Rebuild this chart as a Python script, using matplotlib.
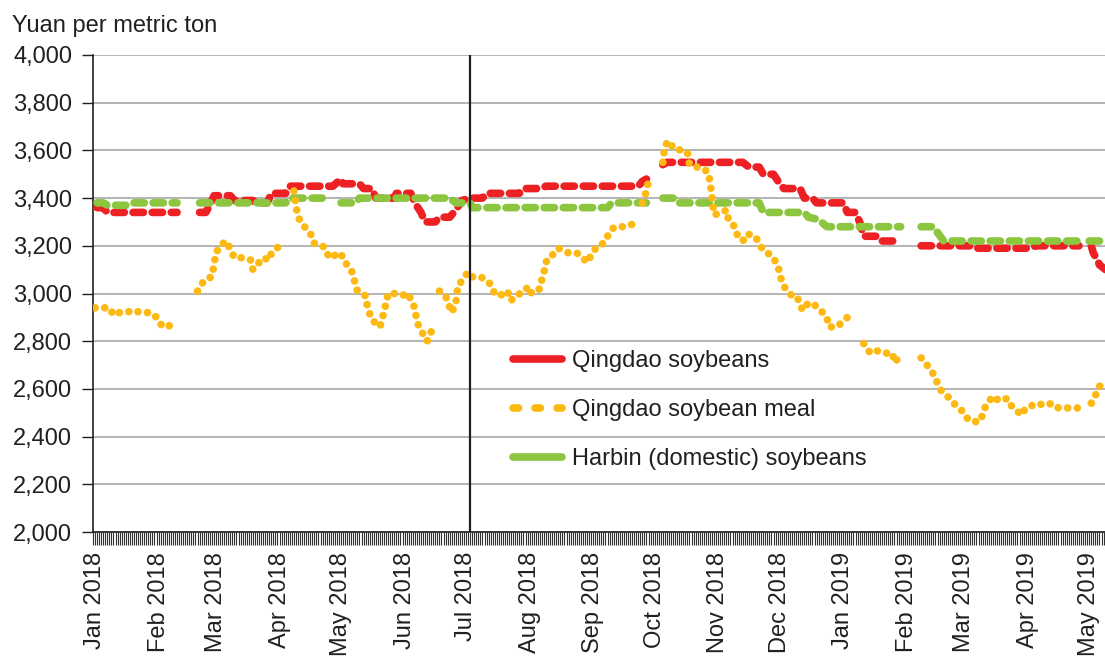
import numpy as np
import pandas as pd
import matplotlib
matplotlib.use("Agg")
import matplotlib.pyplot as plt
import matplotlib.dates as mdates
from matplotlib.lines import Line2D
from matplotlib.ticker import FixedLocator, FuncFormatter

nan = np.nan
BASE = pd.Timestamp("2018-01-01")

# ---- data (day offsets from 2018-01-01, yuan per metric ton; nan = gap) ----
soy_day = [1, 4, 6, 40, 45, 51, 54, 56, 58, 66, 68, 77, 79, 84, 86, 93, 95, 116, 120, 121,
           129, 131, 135, 137, 146, 147, 154, 156, 159, 161, 166, 168, 173, 176, 179, 183, 189, 191, 207, 209,
           217, 220, 265, 267, 269, 272, 277, 279, 316, 319, 324, 326, 331, 334, 336, 344, 346, 350, 352, 365,
           367, 371, 373, 375, 381, 383, 393, 397, 403, 427, 429, 456, 459, 480, 483, 486, 487, 489, 490, 493]
soy_val = [3360, 3360, 3340, 3340, nan, 3340, 3340, 3370, 3410, 3410, 3390, 3390, 3380, 3380, 3420, 3420, 3450, 3450, 3480, 3460,
           3460, 3440, 3440, 3400, 3400, 3420, 3420, 3380, 3340, 3300, 3300, 3320, 3320, 3350, 3390, 3400, 3400, 3420, 3420, 3440,
           3440, 3450, 3450, 3470, 3480, nan, 3540, 3550, 3550, 3530, 3530, 3500, 3500, 3460, 3440, 3440, 3400, 3400, 3380, 3380,
           3340, 3340, 3300, 3240, 3240, 3220, 3220, nan, 3200, 3200, 3190, 3190, 3200, 3200, nan, 3200, 3170, 3140, 3120, 3100]

harbin_day = [1, 4, 6, 16, 18, 40, 45, 51, 93, 95, 112, 114, 116, 120, 127, 129, 173, 176, 183, 184,
              250, 252, 269, 272, 277, 282, 284, 324, 326, 346, 348, 353, 357, 393, 397, 403, 409, 414, 481, 483,
              485, 493]
harbin_val = [3380, 3380, 3370, 3370, 3380, 3380, nan, 3380, 3380, 3400, 3400, 3380, nan, 3380, 3380, 3400, 3400, 3380, 3380, 3360,
              3360, 3380, 3380, nan, 3400, 3400, 3380, 3380, 3340, 3340, 3320, 3310, 3280, 3280, nan, 3280, 3280, 3220, 3220, nan,
              3220, 3220]

meal_day = [0, 5, 7, 9, 12, 15, 19, 22, 27, 30, 33, 35, 40, 45, 50, 52, 54, 57, 59, 61,
            64, 68, 72, 76, 77, 82, 85, 86, 90, 92, 97, 98, 99, 103, 106, 107, 111, 113, 114, 120,
            121, 125, 127, 128, 132, 133, 135, 139, 140, 142, 143, 146, 149, 153, 154, 156, 157, 160, 162, 164,
            166, 168, 171, 174, 176, 177, 182, 184, 188, 192, 195, 198, 199, 202, 203, 205, 210, 211, 213, 217,
            218, 219, 220, 221, 223, 226, 231, 235, 239, 240, 242, 245, 248, 252, 254, 259, 262, 264, 267, 268,
            270, 272, 277, 278, 280, 282, 284, 287, 289, 290, 293, 295, 299, 300, 302, 306, 308, 309, 312, 313,
            316, 318, 322, 326, 330, 333, 335, 336, 340, 342, 344, 345, 348, 350, 355, 357, 358, 362, 367, 371,
            372, 375, 377, 378, 382, 385, 389, 390, 392, 397, 403, 405, 410, 411, 413, 417, 420, 424, 426, 431,
            433, 434, 438, 441, 445, 447, 452, 454, 460, 463, 467, 470, 474, 478, 481, 484, 486, 488, 489, 493]
meal_val = [2940, 2940, 2940, 2910, 2920, 2920, 2930, 2920, 2920, 2900, 2860, 2860, 2880, nan, 3010, 3040, 3060, 3070, 3170, 3200,
            3220, 3150, 3150, 3140, 3100, 3150, 3140, 3170, 3200, nan, 3430, 3370, 3320, 3270, 3240, 3210, 3200, 3180, 3150, 3170,
            3140, 3100, 3040, 3010, 2990, 2940, 2890, 2860, 2890, 2960, 3000, 3000, 2990, 3000, 2970, 2940, 2880, 2830, 2800, 2840,
            nan, 3010, 2990, 2920, 2960, 3030, 3090, 3070, 3070, 3050, 3000, 2990, 3010, 3000, 2970, 2990, 3010, 3030, 3000, 3020,
            3060, 3090, 3130, 3150, 3160, 3190, 3170, 3170, 3140, 3130, 3160, 3200, 3210, 3270, 3280, 3280, 3290, nan, 3380, 3400,
            3470, nan, 3550, 3620, 3640, 3610, 3610, 3590, 3590, 3540, 3530, 3530, 3510, 3470, 3330, 3340, 3350, 3310, 3280, 3250,
            3220, 3250, 3240, 3180, 3160, 3120, 3050, 3030, 2990, 2990, 2960, 2930, 2960, 2960, 2920, 2900, 2860, 2860, 2900, 2890,
            nan, 2790, 2770, 2750, 2760, 2750, 2750, 2710, 2730, nan, 2730, 2710, 2650, 2620, 2590, 2560, 2530, 2500, 2470, 2460,
            2490, 2520, 2570, 2550, 2560, 2530, 2490, 2520, 2540, 2530, 2540, 2520, 2520, 2520, 2520, nan, 2540, 2570, 2600, 2640]

series_labels = ["Qingdao soybeans", "Qingdao soybean meal", "Harbin (domestic) soybeans"]
y_ticks = list(range(2000, 4001, 200))
month_ticks = pd.date_range("2018-01-01", "2019-05-01", freq="MS")
tariff_date = pd.Timestamp("2018-07-03")
y_title = "Yuan per metric ton"


def to_dates(days):
    return BASE + pd.to_timedelta(np.asarray(days, dtype=float), unit="D")


RED = "#ED2024"
YEL = "#FDB913"
GRN = "#8CC63F"
TXT = "#231F20"

plt.rcParams["font.family"] = ["Liberation Sans", "DejaVu Sans"]

W, H = 1105, 660
fig = plt.figure(figsize=(W / 100, H / 100), dpi=100)
ax = fig.add_axes([93 / W, 1 - 532 / H, 1 - 93 / W, (532 - 55) / H])

lw = 5.5
ax.plot(to_dates(soy_day), soy_val, color=RED, lw=lw, dashes=(1.35, 1.15),
        dash_capstyle="round", zorder=3)
ax.plot(to_dates(harbin_day), harbin_val, color=GRN, lw=lw, dashes=(1.35, 1.15),
        dash_capstyle="round", zorder=4)
ax.plot(to_dates(meal_day), meal_val, color=YEL, lw=lw, dashes=(0.01, 1.25),
        dash_capstyle="round", zorder=5)

ax.axvline(tariff_date, color=TXT, lw=1.6, zorder=6)

ax.set_xlim(BASE - pd.Timedelta(days=1), BASE + pd.Timedelta(days=492.7))
ax.set_ylim(2000, 4000)

ax.set_yticks(y_ticks)
ax.yaxis.set_major_formatter(FuncFormatter(lambda v, p: f"{int(v):,}"))
ax.yaxis.grid(True, color="#A0A0A0", lw=1.1)
ax.set_axisbelow(True)

ax.xaxis.set_major_locator(FixedLocator(mdates.date2num(month_ticks)))
ax.xaxis.set_major_formatter(mdates.DateFormatter("%b %Y"))
ax.xaxis.set_minor_locator(mdates.DayLocator())

for s in ["top", "right"]:
    ax.spines[s].set_visible(False)
for s in ["left", "bottom"]:
    ax.spines[s].set_color(TXT)
    ax.spines[s].set_linewidth(1.2)

ax.tick_params(axis="y", direction="out", length=8, width=1.0, pad=7,
               labelsize=17, colors=TXT)
ax.tick_params(axis="x", which="both", direction="out", length=9.4, width=0.8,
               color="#333333")
ax.tick_params(axis="x", which="major", pad=5, labelsize=17, labelcolor=TXT,
               labelrotation=90)

fig.text(12 / W, 1 - 32 / H, y_title, fontsize=17, ha="left", va="baseline", color=TXT)

handles = [
    Line2D([], [], color=RED, lw=5.5, solid_capstyle="round"),
    Line2D([], [], color=YEL, lw=5.5, dashes=(0.72, 2.16), dash_capstyle="round"),
    Line2D([], [], color=GRN, lw=5.5, solid_capstyle="round"),
]
ax.legend(handles, series_labels, loc="upper left",
          bbox_to_anchor=(512.5 / W, 1 - 350 / H), bbox_transform=fig.transFigure,
          frameon=False, borderpad=0, borderaxespad=0, handlelength=2.1,
          handletextpad=0.4, labelspacing=1.15, fontsize=17, labelcolor=TXT)

fig.savefig("out.png", dpi=100)
